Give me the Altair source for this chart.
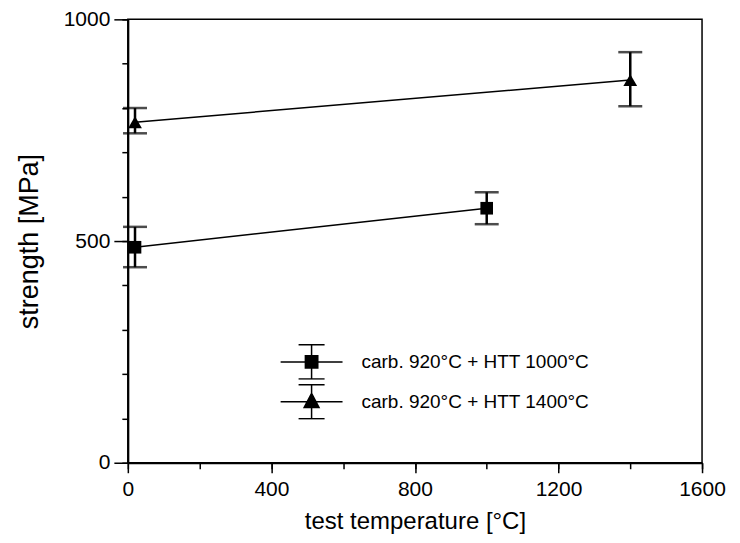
import altair as alt
import pandas as pd

series_names = ["carb. 920°C + HTT 1000°C", "carb. 920°C + HTT 1400°C"]

# series 1 (squares)
temp_a = [20, 1000]
str_a = [486, 574]
lo_a = [441, 538]
hi_a = [532, 610]

# series 2 (triangles)
temp_b = [20, 1400]
str_b = [768, 863]
lo_b = [743, 804]
hi_b = [800, 926]

x_major = [0, 400, 800, 1200, 1600]
x_minor = [0, 200, 400, 600, 800, 1000, 1200, 1400, 1600]
y_major = [0, 500, 1000]
y_minor = [0, 100, 200, 300, 400, 500, 600, 700, 800, 900, 1000]

rows = []
for t, s, lo, hi in zip(temp_a, str_a, lo_a, hi_a):
    rows.append({"series": series_names[0], "temp": t, "strength": s, "lo": lo, "hi": hi})
for t, s, lo, hi in zip(temp_b, str_b, lo_b, hi_b):
    rows.append({"series": series_names[1], "temp": t, "strength": s, "lo": lo, "hi": hi})
df = pd.DataFrame(rows)

FONT = "Liberation Sans"
xscale = alt.Scale(domain=[0, 1600], nice=False, zero=False)
yscale = alt.Scale(domain=[0, 1000], nice=False, zero=False)

base = alt.Chart(df)

x_main_axis = alt.Axis(values=x_major, format="d", tickSize=10, orient="bottom", grid=False,
                       title="test temperature [°C]", labelFontSize=21, labelFont=FONT,
                       labelColor="black", labelPadding=6, titleFontSize=24, titleFont=FONT,
                       titleFontWeight="normal", titleColor="black", titleBaseline="alphabetic",
                       titleY=66, domainColor="black", domainWidth=2, tickColor="black",
                       tickWidth=1.5, labelFlush=False)
y_main_axis = alt.Axis(values=y_major, format="d", tickSize=14, orient="left", grid=False,
                       title="strength [MPa]", labelFontSize=21, labelFont=FONT,
                       labelColor="black", labelPadding=4, titleFontSize=27, titleFont=FONT,
                       titleFontWeight="normal", titleColor="black", titleAngle=270,
                       titleBaseline="alphabetic", titleAlign="center", titleX=-90, titleY=222,
                       domainColor="black", domainWidth=2, tickColor="black", tickWidth=1.5,
                       labelFlush=False)
x_minor_axis = alt.Axis(values=x_minor, tickSize=6, orient="bottom", grid=False, labels=False,
                        domain=False, title=None, tickColor="black", tickWidth=1.5)
y_minor_axis = alt.Axis(values=y_minor, tickSize=6, orient="left", grid=False, labels=False,
                        domain=False, title=None, tickColor="black", tickWidth=1.5)

lines = base.mark_line(color="black", strokeWidth=1.5).encode(
    x=alt.X("temp:Q", scale=xscale, axis=x_main_axis),
    y=alt.Y("strength:Q", scale=yscale, axis=y_main_axis),
    detail="series:N",
)

err = base.mark_rule(color="black", strokeWidth=2.5).encode(
    x=alt.X("temp:Q", scale=xscale, axis=x_minor_axis),
    y=alt.Y("lo:Q", scale=yscale, axis=y_minor_axis),
    y2="hi:Q",
)

cap_lo = base.mark_tick(color="black", orient="horizontal", size=24, thickness=2.5).encode(
    x=alt.X("temp:Q", scale=xscale, axis=None),
    y=alt.Y("lo:Q", scale=yscale, axis=None),
)
cap_hi = base.mark_tick(color="black", orient="horizontal", size=24, thickness=2.5).encode(
    x=alt.X("temp:Q", scale=xscale, axis=None),
    y=alt.Y("hi:Q", scale=yscale, axis=None),
)

pts_sq = base.transform_filter(alt.datum.series == series_names[0]).mark_point(
    filled=True, color="black", opacity=1, size=160, shape="square"
).encode(
    x=alt.X("temp:Q", scale=xscale, axis=None),
    y=alt.Y("strength:Q", scale=yscale, axis=None),
)
pts_tri = base.transform_filter(alt.datum.series == series_names[1]).mark_point(
    filled=True, color="black", opacity=1, size=190, shape="triangle-up"
).encode(
    x=alt.X("temp:Q", scale=xscale, axis=None),
    y=alt.Y("strength:Q", scale=yscale, axis=None),
)

# legend glyphs: line + marker + error bar (stroke-only paths, marker hatched solid)
errbar_path = "M0,-0.55V0.55M-0.42,-0.55H0.42M-0.42,0.55H0.42"
sq_hatch = "".join(f"M-0.2,{(-0.2 + 0.04 * i):.3f}H0.2" for i in range(11))
sq_path = "M-1,0H1M-0.2,-0.2H0.2V0.2H-0.2Z" + sq_hatch + errbar_path
tri_hatch = ""
for i in range(12):
    yy = -0.27 + 0.04 * i
    hw = 0.24 * (yy + 0.27) / 0.45
    tri_hatch += f"M{-hw:.3f},{yy:.3f}H{hw:.3f}"
tri_path = "M-1,0H1M0,-0.27L0.24,0.18H-0.24Z" + tri_hatch + errbar_path

legend_layer = base.mark_point(filled=False, color="black", strokeWidth=1.5, opacity=0).encode(
    x=alt.X("temp:Q", scale=xscale, axis=None),
    y=alt.Y("strength:Q", scale=yscale, axis=None),
    shape=alt.Shape("series:N", scale=alt.Scale(domain=series_names, range=[sq_path, tri_path]),
                    legend=alt.Legend(title=None, orient="none", legendX=152, legendY=325,
                                      symbolSize=3844, symbolStrokeWidth=1.5,
                                      symbolStrokeColor="black", symbolFillColor="black",
                                      symbolOpacity=1, clipHeight=36, rowPadding=4,
                                      labelOffset=18, labelFontSize=19, labelFont=FONT,
                                      labelColor="black", labelLimit=400)),
)

chart = alt.layer(lines, err, cap_lo, cap_hi, pts_sq, pts_tri, legend_layer).resolve_scale(
    x="shared", y="shared"
).resolve_axis(
    x="independent", y="independent"
).properties(
    width=575, height=444,
    padding={"left": 120, "top": 11, "right": 30, "bottom": 76},
    autosize=alt.AutoSizeParams(type="none"),
    background="white",
).configure_view(
    stroke="black", strokeWidth=1.5
)

chart.save("out.html", embed_options={"renderer": "svg", "actions": False})
